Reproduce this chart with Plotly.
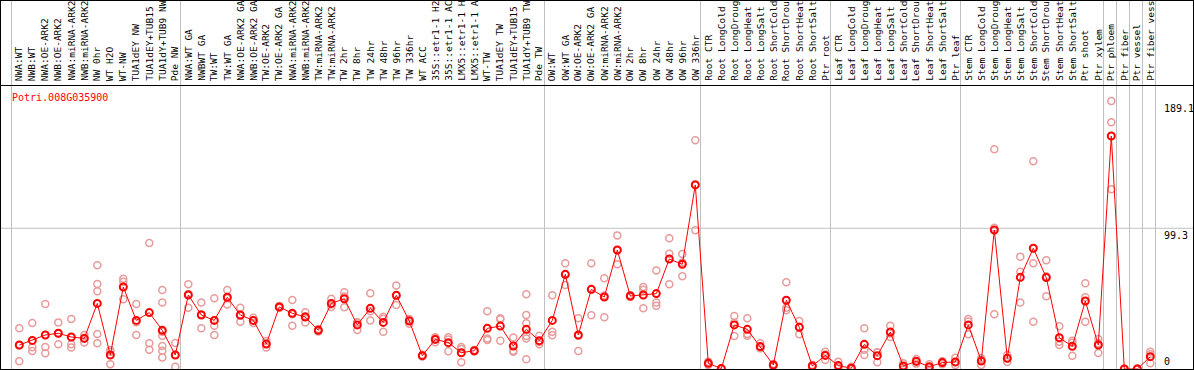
import plotly.graph_objects as go

gene_id = "Potri.008G035900"

labels = [
    "NWA:WT", "NWB:WT", "NWA:OE-ARK2", "NWB:OE-ARK2", "NWA:miRNA-ARK2", "NWB:miRNA-ARK2",
    "NW 0hr", "WT H2O", "WT-NW", "TUA1dEY NW", "TUA1dEY+TUB15 NW", "TUA1dY+TUB9 NW", "Pde NW",
    "NWA:WT GA", "NWBWT GA", "TW:WT", "TW:WT GA", "NWA:OE-ARK2 GA", "NWB:OE-ARK2 GA",
    "TW:OE-ARK2", "TW:OE-ARK2 GA", "NWA:miRNA-ARK2", "NWB:miRNA-ARK2", "TW:miRNA-ARK2",
    "TW:miRNA-ARK2", "TW 2hr", "TW 8hr", "TW 24hr", "TW 48hr", "TW 96hr", "TW 336hr",
    "WT ACC", "35S::etr1-1 H2O", "35S::etr1-1 ACC", "LMX5::etr1-1 H2O", "LMX5::etr1-1 ACC",
    "WT-TW", "TUA1dEY TW", "TUA1dEY+TUB15 TW", "TUA1dY+TUB9 TW", "Pde TW",
    "OW:WT", "OW:WT GA", "OW:OE-ARK2", "OW:OE-ARK2 GA", "OW:miRNA-ARK2", "OW:miRNA-ARK2",
    "OW 2hr", "OW 8hr", "OW 24hr", "OW 48hr", "OW 96hr", "OW 336hr",
    "Root CTR", "Root LongCold", "Root LongDrought", "Root LongHeat", "Root LongSalt",
    "Root ShortCold", "Root ShortDrought", "Root ShortHeat", "Root ShortSalt", "Ptr root",
    "Leaf CTR", "Leaf LongCold", "Leaf LongDrought", "Leaf LongHeat", "Leaf LongSalt",
    "Leaf ShortCold", "Leaf ShortDrought", "Leaf ShortHeat", "Leaf ShortSalt", "Ptr leaf",
    "Stem CTR", "Stem LongCold", "Stem LongDrought", "Stem LongHeat", "Stem LongSalt",
    "Stem ShortCold", "Stem ShortDrought", "Stem ShortHeat", "Stem ShortSalt", "Ptr shoot",
    "Ptr xylem", "Ptr phloem", "Ptr fiber", "Ptr vessel", "Ptr fiber vessel",
]

mean_values = [
    16.9, 20.2, 24.0, 25.2, 22.6, 21.6, 46.3, 9.9, 57.9, 34.3, 39.8, 27.3, 9.9,
    52.2, 38.1, 34.3, 50.6, 38.1, 34.3, 17.6, 43.8, 39.3, 36.7, 27.3, 46.3, 49.6,
    31.1, 42.8, 32.9, 52.0, 33.9, 9.4, 20.9, 18.6, 11.5, 12.9, 28.7, 30.3, 16.2,
    28.0, 20.0,
    34.3, 66.8, 24.0, 56.2, 50.8, 84.0, 51.5, 52.2, 53.2, 77.6, 73.9, 129.9,
    4.0, 0.3, 31.1, 28.0, 15.8, 2.8, 48.5, 29.4, 2.1, 9.6,
    2.4, 0.5, 17.4, 9.4, 26.1, 2.1, 5.4, 1.6, 4.5, 5.0,
    31.1, 5.6, 98.1, 7.5, 64.7, 85.2, 64.5, 22.1, 16.0, 48.0, 16.9,
    164.4, 0.0, 0.0, 8.7,
]

replicate_values = [
    [28.7, 16.6, 5.4], [32.5, 15.3, 12.7], [45.9, 15.5, 11.1], [32.9, 25.3, 17.4],
    [35.3, 17.4, 15.1], [24.0, 22.1, 18.7], [73.2, 60.0, 54.8, 24.7, 18.1],
    [13.4, 12.2, 3.3], [63.7, 61.6, 49.2], [45.9, 33.0, 24.0], [88.9, 18.1, 13.6],
    [55.8, 47.0, 26.3, 23.5, 16.2, 12.9, 8.2], [18.3, 9.8, 1.6],
    [59.8, 53.0, 43.3], [47.0, 38.6, 28.7], [49.9, 30.6, 24.0], [55.8, 50.0, 45.6],
    [43.3, 37.6, 33.4], [36.2, 34.3, 32.5], [19.8, 17.9, 15.1], [44.5, 43.8, 43.1],
    [48.7, 38.6, 30.6], [40.0, 37.2, 32.9], [28.2, 27.3, 26.4], [49.6, 45.5, 43.8],
    [54.1, 51.2, 43.5], [32.9, 33.0, 27.5], [53.4, 40.7, 34.3], [36.9, 35.5, 26.3],
    [59.0, 51.8, 45.2], [35.3, 34.4, 32.0], [10.0, 9.4, 8.8], [21.5, 22.4, 18.8],
    [20.9, 22.4, 12.5], [15.5, 14.2, 4.7], [13.4, 12.9, 12.4], [40.7, 21.6, 20.5],
    [35.1, 35.8, 20.0], [22.3, 12.9, 12.2], [52.7, 38.1, 32.2, 23.3, 21.6, 6.8],
    [23.5, 19.0, 17.4],
    [52.0, 26.3, 23.8], [74.6, 66.5, 59.3], [35.8, 23.5, 12.7], [74.6, 56.1, 37.9],
    [64.0, 51.9, 36.5], [94.3, 83.8, 73.9], [52.2, 51.5, 50.8], [57.9, 56.0, 42.8],
    [69.6, 47.0, 44.7], [92.2, 81.4, 59.8], [81.2, 75.1, 65.4], [161.4, 130.4, 97.9],
    [5.2, 4.0, 2.8], [0.6, 0.3, 0.0], [37.4, 32.6, 23.3], [35.8, 24.7, 23.5],
    [18.1, 14.8, 14.6], [3.5, 2.8, 2.1], [61.2, 43.3, 41.4], [33.9, 29.8, 24.5],
    [2.8, 2.1, 1.4], [12.2, 10.2, 6.4],
    [5.2, 1.2, 0.8], [1.6, 0.2, 0.0], [28.7, 13.6, 9.9], [11.8, 11.7, 4.7],
    [30.6, 25.1, 22.6], [4.0, 1.5, 0.8], [7.1, 5.3, 3.8], [3.3, 1.0, 0.5],
    [5.6, 4.6, 3.3], [8.0, 4.8, 2.8],
    [35.3, 33.5, 24.5], [7.5, 6.5, 2.8], [155.0, 99.7, 38.6], [9.9, 7.6, 5.0],
    [79.3, 68.7, 47.0], [146.6, 74.6, 33.4], [76.7, 65.5, 51.3], [30.1, 19.3, 16.9],
    [20.0, 18.6, 9.4], [60.5, 50.6, 33.4], [21.2, 18.2, 11.3],
    [189.1, 174.1, 126.8], [0.0, 0.0, 0.0], [0.4, 0.0, 0.0], [12.2, 10.4, 4.0],
]

group_starts = [0, 13, 41, 53, 63, 73, 84, 85, 86, 87, 88]
y_tick_values = [0, 99.3, 189.1]
y_tick_texts = ["0", "99.3", "189.1"]

# ---- layout geometry (pixels) ----
W, H = 1194, 370
PLOT_TOP, PLOT_BOTTOM = 85, 369
X0_PX, STEP_PX = 19.3, 13.0
PX_PER_UNIT = 1.417
YMAX = (PLOT_BOTTOM - PLOT_TOP) / PX_PER_UNIT
MONO = "DejaVu Sans Mono"

x_idx = list(range(len(labels)))

rep_x, rep_y = [], []
for i, reps in enumerate(replicate_values):
    rep_x += [i] * len(reps)
    rep_y += reps

fig = go.Figure()
fig.add_trace(go.Scatter(
    x=rep_x, y=rep_y, mode="markers", hoverinfo="skip",
    marker=dict(symbol="circle-open", size=7, color="#E89B9B", line=dict(width=1.5)),
))
fig.add_trace(go.Scatter(
    x=x_idx, y=mean_values, mode="lines+markers",
    line=dict(color="#FF0000", width=1),
    marker=dict(symbol="circle-open", size=7, color="#FF0000", line=dict(width=2)),
))

shapes = []
for g in group_starts:
    shapes.append(dict(type="line", xref="x", yref="paper", x0=g - 0.6, x1=g - 0.6,
                       y0=0, y1=1, line=dict(color="#C0C0C0", width=1), layer="below"))
shapes.append(dict(type="line", xref="paper", yref="y", x0=0, x1=1,
                   y0=y_tick_values[1], y1=y_tick_values[1],
                   line=dict(color="#C0C0C0", width=1), layer="below"))
shapes.append(dict(type="rect", xref="paper", yref="paper", x0=0, x1=1, y0=0, y1=1,
                   line=dict(color="black", width=2)))
sep_y = (H - PLOT_TOP - 0.5) / H
shapes.append(dict(type="line", xref="paper", yref="paper", x0=0, x1=1, y0=sep_y, y1=sep_y,
                   line=dict(color="black", width=1)))

annotations = []
for i, lab in enumerate(labels):
    annotations.append(dict(x=i - 0.05, xref="x", y=(H - PLOT_TOP + 2) / H, yref="paper",
                            text=lab, showarrow=False, textangle=-90,
                            xanchor="center", yanchor="bottom",
                            font=dict(family=MONO, size=9.5, color="black")))
annotations.append(dict(x=9.5 / W, xref="paper", y=(H - 97) / H, yref="paper",
                        text=gene_id, showarrow=False, xanchor="left", yanchor="middle",
                        font=dict(family=MONO, size=10, color="#FF0000")))
for v, t in zip(y_tick_values, y_tick_texts):
    annotations.append(dict(x=1162 / W, xref="paper", y=v, yref="y", text=t,
                            showarrow=False, xanchor="left",
                            yanchor="bottom" if v == 0 else "top",
                            font=dict(family=MONO, size=10, color="black")))

fig.update_layout(
    width=W, height=H, margin=dict(l=0, r=0, t=0, b=0, pad=0),
    paper_bgcolor="white", plot_bgcolor="white", showlegend=False,
    xaxis=dict(range=[(0 - X0_PX) / STEP_PX, (W - X0_PX) / STEP_PX], visible=False),
    yaxis=dict(range=[0, YMAX], domain=[(H - PLOT_BOTTOM) / H, (H - PLOT_TOP) / H],
               visible=False),
    shapes=shapes, annotations=annotations,
)
fig.write_html("out.html", config={"displayModeBar": False},
               post_script="document.body.style.margin='0px';document.body.style.overflow='hidden';")
